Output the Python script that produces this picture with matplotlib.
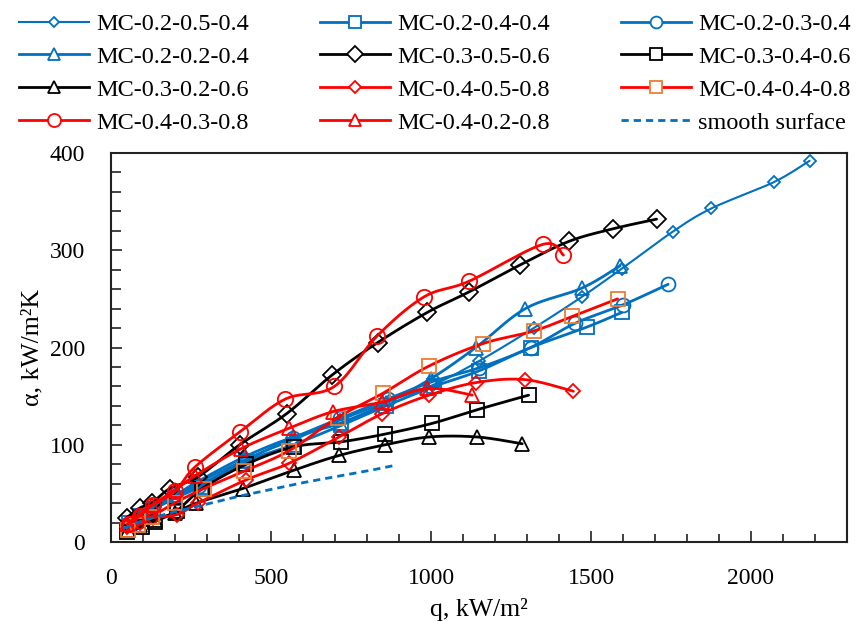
import numpy as np
import matplotlib
matplotlib.use("Agg")
import matplotlib.pyplot as plt
from matplotlib.lines import Line2D

plt.rcParams['font.family'] = ['Liberation Serif', 'DejaVu Serif']

# ---------------- data ----------------
labels = ["MC-0.2-0.5-0.4", "MC-0.2-0.4-0.4", "MC-0.2-0.3-0.4",
          "MC-0.2-0.2-0.4", "MC-0.3-0.5-0.6", "MC-0.3-0.4-0.6",
          "MC-0.3-0.2-0.6", "MC-0.4-0.5-0.8", "MC-0.4-0.4-0.8",
          "MC-0.4-0.3-0.8", "MC-0.4-0.2-0.8", "smooth surface"]

q_s1 = [50, 85, 125, 200, 270, 420, 570, 715, 870, 1010, 1150, 1321, 1471, 1596, 1755, 1876, 2071, 2183]
a_s1 = [18, 25, 32, 45, 60, 85, 105, 125, 145, 162, 186, 220, 252, 281, 319, 343, 370, 392]

q_s2 = [55, 90, 130, 200, 280, 423, 570, 720, 860, 1010, 1150, 1312, 1487, 1596]
a_s2 = [20, 27, 34, 45, 57, 83, 100, 120, 140, 160, 176, 200, 221, 236]

q_s3 = [52, 88, 128, 200, 275, 420, 570, 715, 865, 1005, 1149, 1312, 1451, 1601, 1741]
a_s3 = [19, 26, 34, 46, 58, 84, 107, 127, 147, 165, 179, 200, 225, 244, 265]

q_s4 = [50, 85, 120, 200, 270, 420, 570, 715, 860, 1000, 1140, 1295, 1471, 1591]
a_s4 = [20, 27, 35, 48, 62, 88, 108, 122, 143, 168, 200, 240, 261, 284]

q_s5 = [49, 90, 127, 184, 272, 402, 549, 692, 833, 988, 1118, 1279, 1430, 1568, 1705]
a_s5 = [25, 35, 40, 55, 67, 100, 132, 172, 205, 236, 257, 285, 309, 322, 332]

q_s6 = [49, 96, 137, 205, 285, 423, 573, 719, 857, 1004, 1144, 1305]
a_s6 = [10, 15, 21, 32, 55, 80, 98, 103, 111, 122, 136, 151]

q_s7 = [53, 90, 137, 199, 267, 412, 573, 713, 857, 994, 1144, 1285]
a_s7 = [12, 17, 23, 30, 40, 55, 74, 89, 100, 108, 108, 101]

q_s8 = [50, 90, 130, 205, 272, 423, 557, 713, 848, 994, 1142, 1293, 1445]
a_s8 = [15, 20, 25, 28, 40, 64, 81, 108, 132, 151, 164, 167, 155]

q_s9 = [53, 84, 127, 199, 290, 417, 557, 708, 850, 994, 1162, 1321, 1442, 1583]
a_s9 = [12, 17, 26, 40, 55, 73, 94, 128, 153, 181, 204, 217, 232, 250]

q_s10 = [55, 90, 130, 200, 262, 402, 545, 698, 832, 978, 1118, 1349, 1414]
a_s10 = [18, 27, 38, 52, 77, 113, 147, 160, 212, 252, 268, 306, 295]

q_s11 = [50, 85, 127, 199, 262, 407, 557, 693, 848, 988, 1129]
a_s11 = [18, 28, 38, 53, 68, 96, 117, 134, 144, 158, 151]

q_smooth = [40, 100, 200, 300, 400, 500, 600, 700, 800, 890]
a_smooth = [14, 22, 31, 39, 47, 54, 61, 67, 73, 79]

x_ticks = [0, 500, 1000, 1500, 2000]
y_ticks = [0, 100, 200, 300, 400]

# ---------------- styling ----------------
BLUE = "#0070C0"
RED = "#FF0000"
BLACK = "#000000"
ORANGE = "#ED7D31"

series = [
    (q_s1, a_s1, BLUE, BLUE, 'D', 6.5, 1.5),
    (q_s2, a_s2, BLUE, BLUE, 's', 10, 2.0),
    (q_s3, a_s3, BLUE, BLUE, 'o', 10, 2.0),
    (q_s4, a_s4, BLUE, BLUE, '^', 10, 2.0),
    (q_s5, a_s5, BLACK, BLACK, 'D', 9.5, 2.0),
    (q_s6, a_s6, BLACK, BLACK, 's', 10, 2.0),
    (q_s7, a_s7, BLACK, BLACK, '^', 10, 2.0),
    (q_s8, a_s8, RED, RED, 'D', 7.5, 2.0),
    (q_s9, a_s9, RED, ORANGE, 's', 10, 2.0),
    (q_s10, a_s10, RED, RED, 'o', 11, 2.0),
    (q_s11, a_s11, RED, RED, '^', 10, 2.0),
]

XMAX, YMAX = 2300, 400


def smooth_curve(x, y, n=24):
    """Catmull-Rom (Excel-like smoothed line) through the data points."""
    x = np.asarray(x, float) / XMAX
    y = np.asarray(y, float) / YMAX
    P = np.column_stack([x, y])
    P = np.vstack([P[0], P, P[-1]])
    out = []
    t = np.linspace(0, 1, n, endpoint=False)
    for i in range(1, len(P) - 2):
        p0, p1, p2, p3 = P[i - 1], P[i], P[i + 1], P[i + 2]
        c1 = p1 + (p2 - p0) / 6.0
        c2 = p2 - (p3 - p1) / 6.0
        tt = t[:, None]
        seg = ((1 - tt) ** 3) * p1 + 3 * ((1 - tt) ** 2) * tt * c1 + 3 * (1 - tt) * tt ** 2 * c2 + tt ** 3 * p2
        out.append(seg)
    out.append(P[-2][None, :])
    C = np.vstack(out)
    return C[:, 0] * XMAX, C[:, 1] * YMAX


fig = plt.figure(figsize=(8.62, 6.29), dpi=100)
ax = fig.add_axes([111 / 862, 1 - 542 / 629, (847 - 111) / 862, (542 - 153) / 629])

handles = []
for (qq, aa, lc, mc, mk, ms, lw), lab in zip(series, labels[:-1]):
    xs, ys = smooth_curve(qq, aa)
    ax.plot(xs, ys, color=lc, lw=lw, solid_capstyle='round')
    ax.plot(qq, aa, ls='none', marker=mk, ms=ms, mfc='none', mec=mc, mew=1.3)
    handles.append(Line2D([], [], color=lc, lw=lw, marker=mk, ms=ms * 0.85,
                          mfc='white', mec=mc, mew=1.3, label=lab))

xs, ys = smooth_curve(q_smooth, a_smooth)
ax.plot(xs, ys, color=BLUE, lw=2.0, ls=(0, (2.6, 1.8)))
handles.append(Line2D([], [], color=BLUE, lw=2.0, ls=(0, (2.6, 1.8)), label=labels[-1]))

ax.set_xlim(0, XMAX)
ax.set_ylim(0, YMAX)
ax.set_xticks(x_ticks)
ax.set_yticks(y_ticks)
ax.set_xticks(np.arange(0, XMAX + 1, 100), minor=True)
ax.set_yticks(np.arange(0, YMAX + 1, 20), minor=True)
ax.tick_params(which='both', direction='in', labelsize=17, color='#222222')
ax.tick_params(which='major', length=8, width=1.2, pad=18.5)
ax.tick_params(which='minor', length=6, width=1.2)
ax.tick_params(axis='y', which='minor', length=7)
for s in ax.spines.values():
    s.set_linewidth(1.5)
    s.set_color('#222222')

ax.set_xlabel("q, kW/m²", fontsize=18.5, labelpad=7)
ax.set_ylabel("α, kW/m²K", fontsize=18.5, labelpad=5)

order = [0, 3, 6, 9, 1, 4, 7, 10, 2, 5, 8, 11]
fig.legend([handles[i] for i in order], [labels[i] for i in order],
           loc='upper left', bbox_to_anchor=(19 / 862, 1 - 13 / 629),
           ncol=3, frameon=False, fontsize=17.5, handlelength=2.88,
           handletextpad=0.3, columnspacing=2.92, labelspacing=0.45,
           borderaxespad=0, borderpad=0)

fig.savefig("out.png", dpi=100)
